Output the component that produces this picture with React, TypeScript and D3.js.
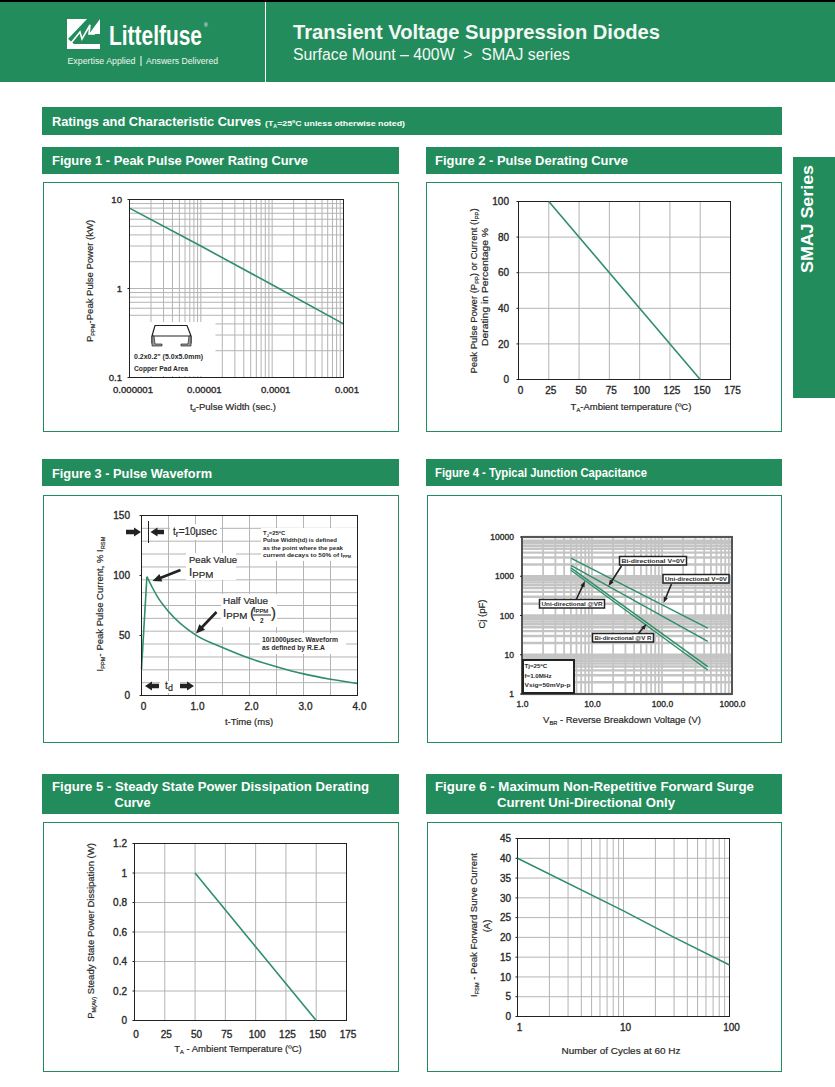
import * as d3 from "d3";
import { useCallback } from "react";

type Sel = d3.Selection<SVGGElement, unknown, null, undefined>;
type Part = string | [string, "sub" | "big"];

const GREEN = "#238c5c";
const LINE = "#2f8f68";
const GRID = "#b4b4b4";
const INK = "#2a2a2a";
const FONT = "'Liberation Sans', Arial, sans-serif";

// Figure 1 - peak pulse power
const fig1Width = [0.000001, 0.00001, 0.0001, 0.001];
const fig1Power = [8, 3, 1.1, 0.4];
const fig1XLabels = ["0.000001", "0.00001", "0.0001", "0.001"];
const fig1YTicks = [0.1, 1, 10];

// Figure 2 - pulse derating
const fig2Temp = [25, 150];
const fig2Percent = [100, 0];
const fig2XTicks = [0, 25, 50, 75, 100, 125, 150, 175];
const fig2YTicks = [0, 20, 40, 60, 80, 100];

// Figure 3 - pulse waveform
const fig3Time = [0, 0.1, 0.2, 0.3, 0.5, 1, 1.5, 2, 2.5, 3, 3.5, 4];
const fig3Current = [22, 99, 90, 82, 70, 50.5, 40, 31, 24, 18, 13.5, 10];
const fig3XLabels = ["0", "1.0", "2.0", "3.0", "4.0"];
const fig3XTicks = [0, 1, 2, 3, 4];
const fig3XGrid = [0.5, 1, 1.5, 2, 2.5, 3, 3.5];
const fig3YTicks = [0, 50, 100, 150];
// the grid of this figure does not line up with its labels
const fig3YGrid = [10.7, 21.4, 32.1, 42.9, 53.6, 64.3, 75, 85.7, 96.4, 107.1, 117.9, 128.6, 139.3];

// Figure 4 - junction capacitance
const fig4Voltage = [5, 450];
const fig4BiZero = [2900, 48];
const fig4UniZero = [1900, 22];
const fig4BiVr = [1630, 5];
const fig4UniVr = [1420, 4.1];
const fig4XTicks = [1, 10, 100, 1000];
const fig4XLabels = ["1.0", "10.0", "100.0", "1000.0"];
const fig4YTicks = [1, 10, 100, 1000, 10000];

// Figure 5 - steady state power
const fig5Temp = [50, 150];
const fig5Power = [1, 0];
const fig5XTicks = [0, 25, 50, 75, 100, 125, 150, 175];
const fig5YTicks = [0, 0.2, 0.4, 0.6, 0.8, 1, 1.2];

// Figure 6 - forward surge
const fig6Cycles = [1, 10, 30, 100];
const fig6Current = [40, 26.7, 20, 13];
const fig6XTicks = [1, 10, 100];
const fig6YTicks = [0, 5, 10, 15, 20, 25, 30, 35, 40, 45];

function put(
  g: Sel,
  x: number,
  y: number,
  parts: Part | Part[],
  opts: {
    size?: number;
    weight?: number;
    anchor?: string;
    rotate?: boolean;
    fill?: string;
    width?: number;
  } = {}
) {
  const size = opts.size ?? 9.5;
  const isSingle =
    typeof parts === "string" || (parts.length === 2 && (parts[1] === "sub" || parts[1] === "big"));
  const list = (isSingle ? [parts] : parts) as Part[];
  const fill = opts.fill ?? INK;
  const weight = opts.weight ?? 400;
  const text = g
    .append("text")
    .attr("x", opts.rotate ? 0 : x)
    .attr("y", opts.rotate ? 0 : y)
    .attr("font-family", FONT)
    .attr("font-size", size)
    .attr("font-weight", weight)
    .attr("text-anchor", opts.anchor ?? "start")
    .attr("fill", fill);
  // the scan looks heavier than a plain regular weight
  if (weight === 400 && fill === INK) text.attr("stroke", INK).attr("stroke-width", 0.2);
  if (opts.rotate) text.attr("transform", `translate(${x},${y}) rotate(-90)`);
  if (opts.width) {
    text.attr("textLength", opts.width).attr("lengthAdjust", "spacingAndGlyphs");
  }
  let back = 0;
  list.forEach((p) => {
    if (typeof p === "string") {
      const span = text.append("tspan").text(p);
      if (back) span.attr("dy", back);
      back = 0;
    } else {
      const big = p[1] === "big";
      const drop = size * (big ? 0.18 : 0.25);
      text
        .append("tspan")
        .attr("dy", drop)
        .attr("font-size", size * (big ? 0.85 : 0.6))
        .text(p[0]);
      back = -drop;
    }
  });
  return text;
}

function arrow(
  g: Sel,
  from: [number, number],
  tip: [number, number],
  shaft = 2.4,
  head = 7,
  headLen = 8
) {
  const a = Math.atan2(tip[1] - from[1], tip[0] - from[0]);
  const ux = Math.cos(a);
  const uy = Math.sin(a);
  const bx = tip[0] - ux * headLen;
  const by = tip[1] - uy * headLen;
  const pts = [
    [from[0] - uy * shaft * 0.5, from[1] + ux * shaft * 0.5],
    [bx - uy * shaft * 0.5, by + ux * shaft * 0.5],
    [bx - uy * head * 0.5, by + ux * head * 0.5],
    tip,
    [bx + uy * head * 0.5, by - ux * head * 0.5],
    [bx + uy * shaft * 0.5, by - ux * shaft * 0.5],
    [from[0] + uy * shaft * 0.5, from[1] - ux * shaft * 0.5],
  ];
  g.append("path")
    .attr("d", `M${pts.map((p) => p.join(",")).join("L")}Z`)
    .attr("fill", "#222");
}

function grid(
  g: Sel,
  x: (v: number) => number,
  y: (v: number) => number,
  xs: number[],
  ys: number[],
  xr: [number, number],
  yr: [number, number],
  wx = 1,
  wy = 1,
  color = GRID
) {
  g.selectAll("line.v")
    .data(xs)
    .enter()
    .append("line")
    .attr("x1", (d) => x(d))
    .attr("x2", (d) => x(d))
    .attr("y1", yr[0])
    .attr("y2", yr[1])
    .attr("stroke", color)
    .attr("stroke-width", wx);
  g.selectAll("line.h")
    .data(ys)
    .enter()
    .append("line")
    .attr("x1", xr[0])
    .attr("x2", xr[1])
    .attr("y1", (d) => y(d))
    .attr("y2", (d) => y(d))
    .attr("stroke", color)
    .attr("stroke-width", wy);
}

function frame(g: Sel, xr: [number, number], yr: [number, number], w = 1, color = "#222") {
  g.append("rect")
    .attr("x", xr[0])
    .attr("y", yr[0])
    .attr("width", xr[1] - xr[0])
    .attr("height", yr[1] - yr[0])
    .attr("fill", "none")
    .attr("stroke", color)
    .attr("stroke-width", w);
}

// tick labels only: the frame and grid are drawn separately
function axes(
  g: Sel,
  x: any,
  y: any,
  xr: [number, number],
  spec: {
    xTicks: number[];
    yTicks: number[];
    xFormat?: (d: number, i: number) => string;
    yFormat?: (d: number, i: number) => string;
    xBase: number;
    yRight: number;
    xShift?: number;
    size?: number;
  }
) {
  const size = spec.size ?? 10;
  const bottom = g
    .append("g")
    .attr("transform", `translate(${spec.xShift ?? 0},${spec.xBase})`)
    .call(
      d3
        .axisBottom(x)
        .tickValues(spec.xTicks)
        .tickSize(0)
        .tickPadding(0)
        .tickFormat((d, i) => (spec.xFormat ? spec.xFormat(d as number, i) : String(d))) as any
    );
  const left = g
    .append("g")
    .attr("transform", `translate(${spec.yRight},0)`)
    .call(
      d3
        .axisLeft(y)
        .tickValues(spec.yTicks)
        .tickSize(0)
        .tickPadding(0)
        .tickFormat((d, i) => (spec.yFormat ? spec.yFormat(d as number, i) : String(d))) as any
    );
  [bottom, left].forEach((a) => {
    a.select(".domain").remove();
    a.selectAll("text")
      .attr("font-family", FONT)
      .attr("font-size", size)
      .attr("font-weight", 400)
      .attr("fill", "#2a2a2a")
      .attr("stroke", "#2a2a2a")
      .attr("stroke-width", 0.35);
  });
  bottom.selectAll("text").attr("y", 0).attr("dy", 0);
  // little outer tick marks on the left side
  g.selectAll("line.tick")
    .data(spec.yTicks)
    .enter()
    .append("line")
    .attr("x1", xr[0] - 2)
    .attr("x2", xr[0])
    .attr("y1", (d) => y(d))
    .attr("y2", (d) => y(d))
    .attr("stroke", "#222");
}

function curve(
  g: Sel,
  x: (v: number) => number,
  y: (v: number) => number,
  xs: number[],
  ys: number[],
  width = 1.5,
  curveFn: d3.CurveFactory = d3.curveLinear
) {
  const line = d3
    .line<number>()
    .x((d) => x(d))
    .y((_, i) => y(ys[i]))
    .curve(curveFn);
  g.append("path")
    .attr("d", line(xs))
    .attr("fill", "none")
    .attr("stroke", LINE)
    .attr("stroke-width", width);
}

function band(g: Sel, x: number, y: number, w: number, h: number) {
  g.append("rect").attr("x", x).attr("y", y).attr("width", w).attr("height", h).attr("fill", GREEN);
}

function panel(g: Sel, x: number, y: number, w: number, h: number) {
  g.append("rect")
    .attr("x", x + 0.5)
    .attr("y", y + 0.5)
    .attr("width", w)
    .attr("height", h)
    .attr("fill", "#fff")
    .attr("stroke", GREEN)
    .attr("stroke-width", 1);
}

function whiteBox(g: Sel, x: number, y: number, w: number, h: number) {
  g.append("rect").attr("x", x).attr("y", y).attr("width", w).attr("height", h).attr("fill", "#fff");
}

function drawPage(g: Sel) {
  // page header
  g.append("rect").attr("width", 835).attr("height", 2).attr("fill", "#000");
  band(g, 0, 2, 835, 80);
  g.append("line")
    .attr("x1", 265.5)
    .attr("x2", 265.5)
    .attr("y1", 2)
    .attr("y2", 82)
    .attr("stroke", "#fff");

  // logo mark
  g.append("path")
    .attr("d", "M67,19H87L67,40ZM100,19V34H89ZM67,49V38L74,44H100V49Z")
    .attr("fill", "#fff");
  g.append("path")
    .attr("d", "M71,43L80,32L82,39L90,25L89,34L95,34")
    .attr("fill", "none")
    .attr("stroke", "#fff")
    .attr("stroke-width", 1.6);
  // squeezed by hand, the wordmark is a condensed face
  put(g, 0, 0, "Littelfuse", { size: 27, weight: 700, fill: "#fff" }).attr(
    "transform",
    "translate(109,45) scale(0.775,1)"
  );
  put(g, 204, 27, "®", { size: 5, fill: "#fff" });
  put(g, 67.5, 64, "Expertise Applied", { size: 8.5, fill: "#eef5f0", width: 68 });
  put(g, 146, 64, "Answers Delivered", { size: 8.5, fill: "#eef5f0", width: 72 });
  g.append("line")
    .attr("x1", 141)
    .attr("x2", 141)
    .attr("y1", 56)
    .attr("y2", 66)
    .attr("stroke", "#fff");

  put(g, 293, 39, "Transient Voltage Suppression Diodes", {
    size: 20,
    weight: 700,
    fill: "#f4f8f5",
    width: 367,
  });
  put(g, 293, 60, "Surface Mount – 400W\u00a0\u00a0>\u00a0\u00a0SMAJ series", {
    size: 16,
    fill: "#f4f8f5",
    width: 277,
  });

  // side tab
  band(g, 793, 157, 42, 241);
  put(g, 813, 273, "SMAJ Series", { size: 17, weight: 700, fill: "#fff", rotate: true, width: 108 });

  // section bars
  band(g, 42, 107, 740, 28);
  put(g, 52, 126, "Ratings and Characteristic Curves", {
    size: 13,
    weight: 700,
    fill: "#fff",
    width: 209,
  });
  put(g, 265, 126, ["(T", ["A", "sub"], "=25ºC unless otherwise noted)"], {
    size: 7.5,
    weight: 700,
    fill: "#fff",
    width: 140,
  });

  const white = { size: 13, weight: 700, fill: "#fff" };
  band(g, 42, 147, 357, 27);
  put(g, 52, 165, "Figure 1 - Peak Pulse Power Rating Curve", { ...white, width: 256 });
  band(g, 426, 147, 356, 27);
  put(g, 435, 165, "Figure 2 - Pulse Derating Curve", { ...white, width: 193 });
  band(g, 42, 459, 357, 27);
  put(g, 52, 478, "Figure 3 - Pulse Waveform", { ...white, width: 160 });
  band(g, 426, 459, 356, 27);
  put(g, 435, 477, "Figure 4 - Typical Junction Capacitance", { ...white, width: 212 });
  band(g, 42, 774, 357, 40);
  put(g, 52, 791, "Figure 5 - Steady State Power Dissipation Derating", { ...white, width: 317 });
  put(g, 114.5, 807, "Curve", { ...white, width: 36 });
  band(g, 426, 774, 356, 40);
  put(g, 435, 791, "Figure 6 - Maximum Non-Repetitive Forward Surge", { ...white, width: 319 });
  put(g, 497, 807, "Current Uni-Directional Only", { ...white, width: 178 });

  panel(g, 43, 182, 355, 249);
  panel(g, 426, 182, 355, 249);
  panel(g, 43, 495, 355, 247);
  panel(g, 427, 495, 354, 247);
  panel(g, 43, 822, 355, 249);
  panel(g, 427, 822, 354, 249);
}

function drawFig1(g: Sel) {
  const xr: [number, number] = [129.5, 343.5];
  const yr: [number, number] = [199.5, 377.5];
  const x = d3.scaleLog().domain([0.000001, 0.001]).range(xr);
  const y = d3.scaleLog().domain([0.1, 10]).range([yr[1], yr[0]]);
  grid(g, x, y, x.ticks(), y.ticks(), xr, yr);
  curve(g, x, y, fig1Width, fig1Power, 1.6);

  // inset with the copper pad drawing
  whiteBox(g, xr[0], 322, 86, 54);
  frame(g, xr, yr);
  g.append("path")
    .attr("d", "M155,325.5H187L191,336H152ZM152,336V343H154M191,336V343H189")
    .attr("fill", "none")
    .attr("stroke", "#222")
    .attr("stroke-width", 1.2);
  g.append("path")
    .attr("d", "M152,336V346H162V344H155L154,336ZM191,336V346H181V344H188L189,336Z")
    .attr("fill", "#999")
    .attr("stroke", "#222")
    .attr("stroke-width", 0.7);
  put(g, 134, 359, "0.2x0.2\" (5.0x5.0mm)", { size: 6.6, weight: 700, width: 69 });
  put(g, 134, 371, "Copper Pad Area", { size: 6.6, weight: 700, width: 54 });

  axes(g, x, y, xr, {
    xTicks: fig1Width,
    yTicks: fig1YTicks,
    xFormat: (_, i) => fig1XLabels[i],
    yFormat: (d) => String(d),
    xBase: 393,
    yRight: 122,
    xShift: 3,
    size: 9.6,
  });
  put(g, 233, 410, ["t", ["d", "sub"], "-Pulse Width (sec.)"], { anchor: "middle" });
  put(g, 93, 281, ["P", ["PPM", "sub"], "-Peak Pulse Power (kW)"], {
    anchor: "middle",
    rotate: true,
  });
}

function drawFig2(g: Sel) {
  const xr: [number, number] = [518.5, 730.5];
  const yr: [number, number] = [201.5, 379.5];
  const x = d3.scaleLinear().domain([0, 175]).range(xr);
  const y = d3.scaleLinear().domain([0, 100]).range([yr[1], yr[0]]);
  grid(g, x, y, fig2XTicks.slice(1, -1), fig2YTicks.slice(1, -1), xr, yr);
  frame(g, xr, yr);
  curve(g, x, y, fig2Temp, fig2Percent, 1.6);
  axes(g, x, y, xr, {
    xTicks: fig2XTicks,
    yTicks: fig2YTicks,
    xBase: 394,
    yRight: 509,
    xShift: 1.5,
  });
  put(g, 631, 410, ["T", ["A", "sub"], "-Ambient temperature (ºC)"], { anchor: "middle" });
  put(g, 477, 291, ["Peak Pulse Power (P", ["PP", "sub"], ") or Current (I", ["PP", "sub"], ")"], {
    anchor: "middle",
    rotate: true,
  });
  put(g, 488, 287, "Derating in Percentage %", { anchor: "middle", rotate: true, width: 118 });
}

function drawFig3(g: Sel) {
  const xr: [number, number] = [141.5, 357.5];
  const yr: [number, number] = [515.5, 695.5];
  const x = d3.scaleLinear().domain([0, 4]).range(xr);
  const y = d3.scaleLinear().domain([0, 150]).range([yr[1], yr[0]]);
  grid(g, x, y, fig3XGrid, fig3YGrid, xr, yr);

  // white patches behind the notes
  whiteBox(g, 170, 524, 50, 16);
  whiteBox(g, 186, 553, 50, 27);
  whiteBox(g, 221, 594, 56, 33);
  whiteBox(g, 261, 528, 96, 33);
  whiteBox(g, 260, 633, 86, 21);
  whiteBox(g, 160, 681, 20, 12);

  curve(g, x, y, fig3Time.slice(0, 2), fig3Current.slice(0, 2), 1.6);
  curve(g, x, y, fig3Time.slice(1), fig3Current.slice(1), 1.6, d3.curveMonotoneX);
  frame(g, xr, yr);

  axes(g, x, y, xr, {
    xTicks: fig3XTicks,
    yTicks: fig3YTicks,
    xFormat: (_, i) => fig3XLabels[i],
    xBase: 710,
    yRight: 130,
    xShift: 1.5,
  });

  g.append("line")
    .attr("x1", 148.5)
    .attr("x2", 148.5)
    .attr("y1", 521)
    .attr("y2", 543)
    .attr("stroke", "#222");
  arrow(g, [126, 532], [141, 532], 4.5, 9, 7);
  arrow(g, [164, 532], [150.5, 532], 4.5, 9, 7);
  put(g, 173, 535, ["t", ["r", "big"], "=10μsec"], { size: 10 });

  arrow(g, [180.5, 570], [152.5, 581], 2.6, 8, 9);
  put(g, 189, 563, "Peak Value", { size: 9.5, width: 48 });
  put(g, 189, 576, ["I", ["PPM", "big"]], { size: 11.5 });

  arrow(g, [216.5, 612], [196, 633.5], 2.6, 8, 9);
  put(g, 223, 604, "Half Value", { size: 9.5, width: 45 });
  put(g, 223, 617, ["I", ["PPM", "big"]], { size: 11.5 });
  put(g, 250, 618, "(", { size: 15 });
  put(g, 271, 618, ")", { size: 15 });
  put(g, 253.5, 612, ["I", ["PPM", "big"]], { size: 7 });
  g.append("line").attr("x1", 253).attr("x2", 271).attr("y1", 615).attr("y2", 615).attr("stroke", "#222");
  put(g, 260, 623, "2", { size: 6.5, weight: 700 });

  arrow(g, [159, 686], [145, 686], 4.5, 9, 7);
  arrow(g, [180, 686], [194, 686], 4.5, 9, 7);
  put(g, 165, 689, ["t", ["d", "big"]], { size: 10.5 });

  const note = { size: 6, weight: 700 };
  put(g, 263, 535, ["T", ["J", "sub"], "=25ºC"], note);
  put(g, 263, 542, "Pulse Width(td) is defined", { ...note, width: 74 });
  put(g, 263, 549.5, "as the point where the peak", { ...note, width: 80 });
  put(g, 263, 556.5, ["current decays to 50% of I", ["PPM", "sub"]], { ...note, width: 88 });
  put(g, 262, 642, "10/1000μsec. Waveform", { ...note, size: 6.4, width: 76 });
  put(g, 262, 650, "as defined by R.E.A", { ...note, size: 6.4, width: 63 });

  put(g, 249, 725, "t-Time (ms)", { anchor: "middle", size: 9.5 });
  put(g, 103, 604, ["I", ["PPM", "sub"], "- Peak Pulse Current, % I", ["RSM", "sub"]], {
    anchor: "middle",
    rotate: true,
    size: 9.5,
  });
}

function drawFig4(g: Sel) {
  const xr: [number, number] = [522, 732];
  const yr: [number, number] = [537, 694];
  const x = d3.scaleLog().domain([1, 1000]).range(xr);
  const y = d3.scaleLog().domain([1, 10000]).range([yr[1], yr[0]]);
  const yLines = y.ticks().filter((d) => d !== 9000);
  grid(g, x, y, x.ticks(), yLines, xr, yr, 1.8, 2.4, "#c4c4c4");
  frame(g, xr, yr, 2, "#555");

  curve(g, x, y, fig4Voltage, fig4BiZero, 1.4);
  curve(g, x, y, fig4Voltage, fig4UniZero, 1.4);
  curve(g, x, y, fig4Voltage, fig4BiVr, 1.4);
  curve(g, x, y, fig4Voltage, fig4UniVr, 1.4);

  arrow(g, [621.5, 566], [608.5, 586], 1.6, 4.5, 6);
  arrow(g, [671.5, 584], [663.5, 603], 1.6, 4.5, 6);
  arrow(g, [576, 600], [585, 581], 1.6, 4.5, 6);
  arrow(g, [638.5, 633.5], [646.5, 624], 1.6, 4.5, 6);

  const tag = (bx: number, by: number, w: number, label: string) => {
    g.append("rect")
      .attr("x", bx)
      .attr("y", by)
      .attr("width", w)
      .attr("height", 8.5)
      .attr("fill", "#fff")
      .attr("stroke", "#222")
      .attr("stroke-width", 1.5);
    put(g, bx + 2, by + 6.7, label, { size: 6, weight: 700, width: w - 4 });
  };
  tag(619.5, 556.5, 67, "Bi-directional V=0V");
  tag(663, 574.5, 66, "Uni-directional V=0V");
  tag(539.5, 599.5, 65, "Uni-directional @VR");
  tag(592.5, 633.5, 61, "Bi-directional @V R");

  g.append("rect")
    .attr("x", 523)
    .attr("y", 660)
    .attr("width", 51)
    .attr("height", 33)
    .attr("fill", "#fff")
    .attr("stroke", "#222")
    .attr("stroke-width", 2);
  put(g, 524.5, 668, "Tj=25ºC", { size: 6.2, weight: 700 });
  put(g, 524.5, 677.5, "f=1.0MHz", { size: 6.2, weight: 700 });
  put(g, 524.5, 687, "Vsig=50mVp-p", { size: 6.2, weight: 700, width: 46 });

  axes(g, x, y, xr, {
    xTicks: fig4XTicks,
    yTicks: fig4YTicks,
    xFormat: (_, i) => fig4XLabels[i],
    xBase: 707,
    yRight: 514,
    size: 8.5,
  });
  put(g, 622, 723, ["V", ["BR", "sub"], " - Reverse Breakdown Voltage (V)"], {
    anchor: "middle",
    size: 9.5,
  });
  put(g, 485, 614, "Cj (pF)", { anchor: "middle", rotate: true, size: 9.5 });
}

function drawFig5(g: Sel) {
  const xr: [number, number] = [134.5, 346.5];
  const yr: [number, number] = [843.5, 1020.5];
  const x = d3.scaleLinear().domain([0, 175]).range(xr);
  const y = d3.scaleLinear().domain([0, 1.2]).range([yr[1], yr[0]]);
  grid(g, x, y, fig5XTicks.slice(1, -1), fig5YTicks.slice(1, -1), xr, yr);
  frame(g, xr, yr);
  curve(g, x, y, fig5Temp, fig5Power, 1.6);
  axes(g, x, y, xr, {
    xTicks: fig5XTicks,
    yTicks: fig5YTicks,
    yFormat: (d) => String(d),
    xBase: 1038,
    yRight: 127,
    xShift: 1,
  });
  put(g, 238, 1052, ["T", ["A", "sub"], " - Ambient Temperature (ºC)"], { anchor: "middle" });
  put(g, 94, 931, ["P", ["M(AV)", "sub"], " Steady State Power Dissipation (W)"], {
    anchor: "middle",
    rotate: true,
  });
}

function drawFig6(g: Sel) {
  const xr: [number, number] = [517.5, 729.5];
  const yr: [number, number] = [838.5, 1016.5];
  const x = d3.scaleLog().domain([1, 100]).range(xr);
  const y = d3.scaleLinear().domain([0, 45]).range([yr[1], yr[0]]);
  grid(g, x, y, x.ticks(), fig6YTicks.slice(1, -1), xr, yr);
  frame(g, xr, yr);
  curve(g, x, y, fig6Cycles, fig6Current, 1.6);
  axes(g, x, y, xr, {
    xTicks: fig6XTicks,
    yTicks: fig6YTicks,
    xFormat: (d) => String(d),
    xBase: 1031,
    yRight: 511,
    xShift: 1.5,
  });
  put(g, 621, 1054, "Number of Cycles at 60 Hz", { anchor: "middle", width: 119 });
  put(g, 477, 925, ["I", ["FSM", "sub"], " - Peak Forward Surve Current"], {
    anchor: "middle",
    rotate: true,
  });
  put(g, 490, 926, "(A)", { anchor: "middle", rotate: true });
}

export default function App() {
  const render = useCallback((node: SVGSVGElement | null) => {
    if (!node) return;
    const root = d3.select(node);
    root.selectAll("*").remove();
    const g = root.append("g") as unknown as Sel;
    drawPage(g);
    drawFig1(g);
    drawFig2(g);
    drawFig3(g);
    drawFig4(g);
    drawFig5(g);
    drawFig6(g);
  }, []);

  return (
    <svg
      ref={render}
      width={835}
      height={1087}
      viewBox="0 0 835 1087"
      style={{ position: "absolute", left: 0, top: 0, background: "#fff" }}
    />
  );
}
